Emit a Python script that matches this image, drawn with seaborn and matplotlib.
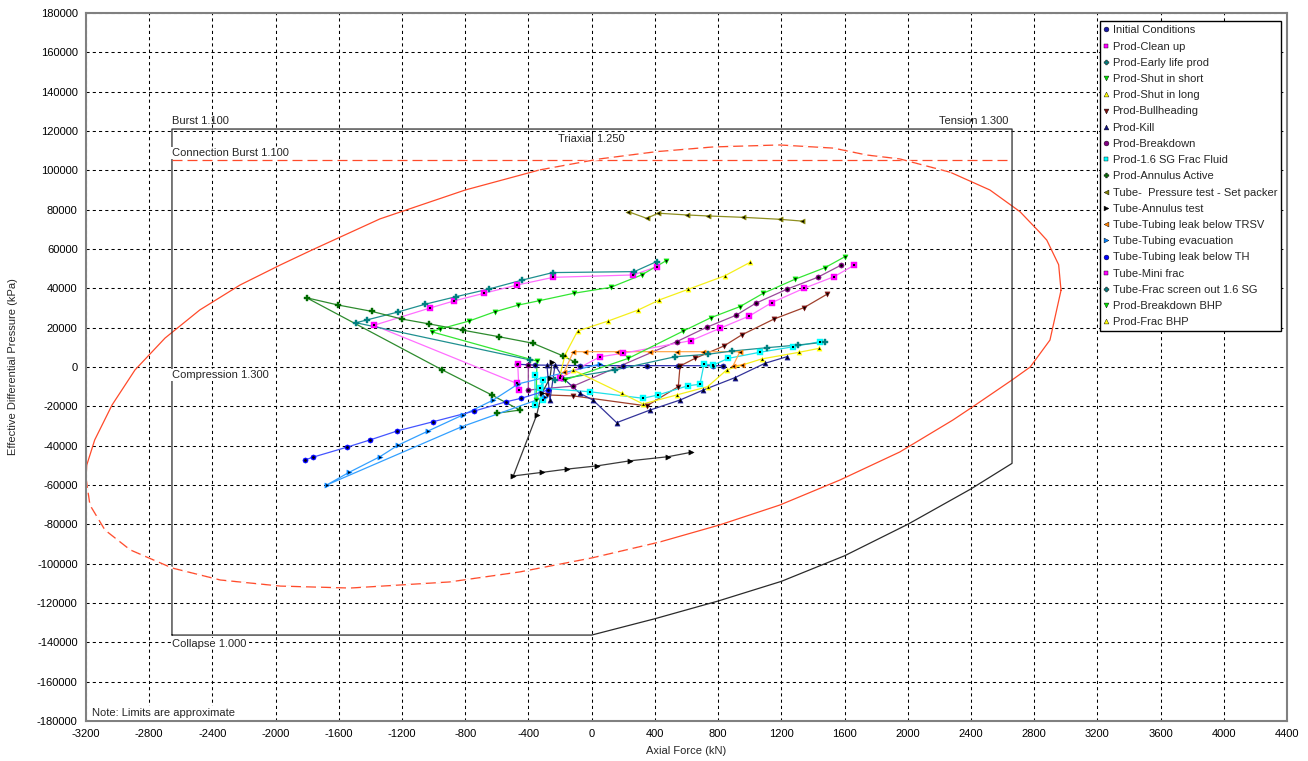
import numpy as np
import pandas as pd
import matplotlib
matplotlib.use("Agg")
import matplotlib.pyplot as plt
from matplotlib.lines import Line2D
from matplotlib.ticker import FuncFormatter
import seaborn as sns

sns.set_theme(style="white")
plt.rcParams["font.family"] = ["Liberation Sans", "DejaVu Sans"]
plt.rcParams["font.size"] = 8
plt.rcParams["axes.unicode_minus"] = False

# ---------------------------------------------------------------- load cases
initial_x = [-475, -360, -74, 200, 348, 548, 770, 833]
initial_y = [1400, 1000, 700, 700, 700, 660, 660, 660]

cleanup_x = [-468, -460, -475, -1378, -1023, -871, -681, -471, -243, 263, 411]
cleanup_y = [1300, -11700, -8300, 21200, 30000, 33600, 37500, 41700, 45600, 46800, 51000]

early_x = [-390, -1491, -1424, -1224, -1055, -861, -648, -439, -247, 270, 411]
early_y = [3600, 22500, 23900, 28000, 31900, 35700, 39700, 44200, 48000, 48500, 53600]

shut_short_x = [-352, -346, -1012, -960, -775, -612, -464, -332, -112, 120, 316, 470]
shut_short_y = [-16800, 3000, 17900, 19300, 23400, 28100, 31500, 33700, 37500, 40500, 46800, 54000]

shut_long_x = [-200, -169, -89, 105, 295, 428, 611, 843, 1002]
shut_long_y = [-4100, 6100, 18300, 23400, 29000, 34100, 39500, 46400, 53200]

bullhead_x = [-285, -116, 348, 548, 559, 654, 837, 949, 1154, 1344, 1491]
bullhead_y = [-14200, -14700, -19800, -10000, 500, 4400, 10700, 16300, 24400, 30200, 37100]

kill_x = [-283, -264, -232, -180, -74, 8, 158, 369, 559, 706, 907, 1097, 1234]
kill_y = [1000, -16800, 1000, -5700, -13400, -16800, -28300, -21900, -16800, -11700, -5400, 1900, 5200]

breakdown_x = [-401, -401, -116, 538, 728, 913, 1038, 1234, 1430, 1576]
breakdown_y = [1000, -11700, -9700, 12900, 20200, 26300, 32400, 39500, 45600, 51700]

frac_fluid_x = [-359, -359, -308, -308, -327, -11, 325, 421, 611, 685, 711, 770, 864, 1065, 1276, 1445]
frac_fluid_y = [-4100, -19300, -6600, -16800, -10700, -12600, -15900, -14200, -9500, -8800, 1500, 1000,
                4400, 7500, 10300, 12900]

ann_active_x = [-106, -180, -373, -587, -813, -1028, -1202, -1392, -1604, -1804, -945, -633, -454, -601]
ann_active_y = [2500, 5600, 12100, 15400, 18700, 21900, 24400, 28300, 31500, 35200, -1500, -14200, -21900, -23500]

set_packer_x = [231, 348, 421, 605, 738, 959, 1192, 1329]
set_packer_y = [79000, 75600, 78200, 77300, 76800, 76100, 75100, 74200]

ann_test_x = [-251, -264, -316, -348, -496, -316, -154, 32, 242, 485, 627]
ann_test_y = [2500, -5700, -13400, -24400, -55400, -53600, -51900, -50300, -47700, -45600, -43400]

leak_trsv_x = [-173, -116, -42, 158, 369, 538, 706, 938, 894, 949]
leak_trsv_y = [-2400, 7800, 7800, 7800, 7800, 7800, 7800, 7800, 500, 1000]

evac_x = [-296, -823, -1677, -1536, -1340, -1224, -1034, -816, -623, -465, 53]
evac_y = [-15300, -30400, -60000, -53600, -45600, -39700, -32500, -24400, -16800, -8600, 1500]

leak_th_x = [-1814, -1766, -1550, -1403, -1230, -1002, -743, -542, -445, -276]
leak_th_y = [-47300, -45900, -40800, -37100, -32500, -27800, -22400, -17700, -15900, -11700]

mini_frac_x = [-200, 53, 200, 628, 812, 997, 1139, 1343, 1533, 1660]
mini_frac_y = [-5600, 5200, 7000, 13400, 19700, 25900, 32700, 40000, 45900, 51700]

screen_out_x = [-232, 147, 527, 738, 886, 1107, 1307, 1476]
screen_out_y = [-6600, -1500, 5200, 6500, 8100, 9800, 11200, 12600]

bd_bhp_x = [-169, 232, 580, 755, 938, 1086, 1286, 1476, 1603]
bd_bhp_y = [-6600, 4400, 18300, 25100, 30700, 37500, 44600, 50500, 56100]

frac_bhp_x = [-118, 190, 325, 538, 734, 854, 1076, 1314, 1440]
frac_bhp_y = [-1500, -13400, -18800, -14200, -10000, -1500, 4100, 7500, 9500]

# ---------------------------------------------------------------- design limits
burst_y = 121000
conn_burst_y = 105000
collapse_y = -136300
compression_x = -2656
tension_x = 2660
collapse_curve_x = [0, 400, 800, 1200, 1600, 2000, 2400, 2660]
collapse_curve_y = [-136300, -128000, -119000, -109000, -96000, -80000, -62000, -49000]

triax_x = [2970, 2955, 2880, 2835, 2710, 2520, 2270, 1950, 1740, 1530, 1190, 770, 410, 50, -330,
           -800, -1340, -1770, -1970, -2225, -2480, -2700, -2890, -3035, -3145, -3195, -3200,
           -3175, -3080, -2920, -2655, -2350, -1970, -1530, -900, -455, 0, 430, 810, 1190, 1570,
           1950, 2285, 2410, 2660, 2775, 2900, 2970]
triax_y = [39000, 52000, 64500, 68500, 79000, 90000, 99000, 105800, 107800, 111300, 112900, 111900,
           109500, 105800, 100200, 90000, 75300, 59500, 51900, 41700, 29000, 14700, -1500, -19300,
           -37100, -49800, -56400, -70200, -82900, -93000, -102200, -108300, -111400, -112400,
           -109300, -104200, -97100, -89000, -80300, -70200, -57500, -43200, -27000, -20300, -6600,
           0, 13700, 39000]

# label, x, y, marker colour, line colour, marker
series = [
    ("Initial Conditions", initial_x, initial_y, "#1a1aa8", "#2c2cb0", "o"),
    ("Prod-Clean up", cleanup_x, cleanup_y, "#ff00ff", "#ff6eff", "s"),
    ("Prod-Early life prod", early_x, early_y, "#008080", "#1f9090", "P"),
    ("Prod-Shut in short", shut_short_x, shut_short_y, "#00e000", "#33e633", "v"),
    ("Prod-Shut in long", shut_long_x, shut_long_y, "#ffff00", "#f5ef1a", "^"),
    ("Prod-Bullheading", bullhead_x, bullhead_y, "#7a1010", "#a0402c", "v"),
    ("Prod-Kill", kill_x, kill_y, "#101080", "#33339a", "^"),
    ("Prod-Breakdown", breakdown_x, breakdown_y, "#800080", "#9a4a9a", "o"),
    ("Prod-1.6 SG Frac Fluid", frac_fluid_x, frac_fluid_y, "#00ffff", "#1fe0e8", "s"),
    ("Prod-Annulus Active", ann_active_x, ann_active_y, "#006a00", "#2e8b2e", "P"),
    ("Tube-  Pressure test - Set packer", set_packer_x, set_packer_y, "#808000", "#8f8f20", "<"),
    ("Tube-Annulus test", ann_test_x, ann_test_y, "#000000", "#3a3a3a", ">"),
    ("Tube-Tubing leak below TRSV", leak_trsv_x, leak_trsv_y, "#ff8000", "#ffa850", "<"),
    ("Tube-Tubing evacuation", evac_x, evac_y, "#0080ff", "#33a0ff", ">"),
    ("Tube-Tubing leak below TH", leak_th_x, leak_th_y, "#0000ff", "#4455ff", "o"),
    ("Tube-Mini frac", mini_frac_x, mini_frac_y, "#ff00ff", "#ff6eff", "s"),
    ("Tube-Frac screen out 1.6 SG", screen_out_x, screen_out_y, "#008080", "#1f9090", "P"),
    ("Prod-Breakdown BHP", bd_bhp_x, bd_bhp_y, "#00e000", "#33e633", "v"),
    ("Prod-Frac BHP", frac_bhp_x, frac_bhp_y, "#ffff00", "#f5ef1a", "^"),
]

fig = plt.figure(figsize=(13.08, 7.61), dpi=100)
ax = fig.add_axes([86 / 1308, 1 - 721 / 761, 1201 / 1308, 708 / 761])
ax.set_facecolor("white")

# triaxial ellipse: solid and dashed arcs
dashed_ranges = [(6, 14), (26, 37)]
ax.plot(triax_x, triax_y, color="#ff4a2a", lw=0.9, zorder=2)
for a, b in dashed_ranges:
    ax.plot(triax_x[a:b + 1], triax_y[a:b + 1], color="white", lw=1.6, zorder=2.1)
    ax.plot(triax_x[a:b + 1], triax_y[a:b + 1], color="#ff4a2a", lw=0.9,
            dashes=(8, 4), zorder=2.2)

# burst / tension / collapse / compression envelope
env_x = [compression_x, compression_x, tension_x] + collapse_curve_x[::-1] + [compression_x]
env_y = [collapse_y, burst_y, burst_y] + collapse_curve_y[::-1] + [collapse_y]
ax.plot(env_x, env_y, color="#2a2a2a", lw=0.9, zorder=2)
ax.plot([compression_x, tension_x], [conn_burst_y, conn_burst_y], color="#ff4a2a",
        lw=0.9, dashes=(8, 4), zorder=2)

# load case traces
for label, xs, ys, mc, lc, mk in series:
    df = pd.DataFrame({"x": xs, "y": ys})
    sns.lineplot(data=df, x="x", y="y", sort=False, estimator=None, color=lc,
                 lw=0.9, ax=ax, legend=False, zorder=3)
    sns.scatterplot(data=df, x="x", y="y", marker=mk, color=mc, s=14,
                    edgecolor=mc, linewidth=0.3, ax=ax, legend=False, zorder=4)
    sns.scatterplot(data=df, x="x", y="y", marker=mk, color="black", s=4,
                    linewidth=0, ax=ax, legend=False, zorder=5)

# limit labels
box = dict(facecolor="white", edgecolor="none", pad=0.6)
ax.text(compression_x, burst_y + 1500, "Burst 1.100", ha="left", va="bottom", fontsize=8, zorder=6)
ax.text(compression_x, conn_burst_y + 1200, "Connection Burst 1.100", ha="left", va="bottom",
        fontsize=8, bbox=box, zorder=6)
ax.text(tension_x - 20, burst_y + 1500, "Tension 1.300", ha="right", va="bottom", fontsize=8, zorder=6)
ax.text(0, 116000, "Triaxial 1.250", ha="center", va="center", fontsize=8, zorder=6)
ax.text(compression_x, -4000, "Compression 1.300", ha="left", va="center", fontsize=8,
        bbox=box, zorder=6)
ax.text(compression_x, collapse_y - 1800, "Collapse 1.000", ha="left", va="top", fontsize=8,
        bbox=box, zorder=6)
ax.text(0.005, 0.004, "Note: Limits are approximate", transform=ax.transAxes, ha="left",
        va="bottom", fontsize=8, bbox=dict(facecolor="white", edgecolor="none", pad=1.5), zorder=6)

# axes, ticks and grid
ax.set_xlim(-3200, 4400)
ax.set_ylim(-180000, 180000)
ax.set_xticks(np.arange(-3200, 4401, 400))
ax.set_yticks(np.arange(-180000, 180001, 20000))
ax.xaxis.set_major_formatter(FuncFormatter(lambda v, p: f"{int(round(v))}"))
ax.yaxis.set_major_formatter(FuncFormatter(lambda v, p: f"{int(round(v))}"))
ax.tick_params(axis="both", direction="out", length=4, width=1, color="#808080",
               labelsize=8, pad=2, labelcolor="black")
ax.grid(True, color="black", lw=0.75, linestyle=(0, (3, 3)))
ax.set_axisbelow(True)
for side in ["left", "bottom", "top", "right"]:
    ax.spines[side].set_color("#808080")
    ax.spines[side].set_linewidth(1.5)

ax.set_xlabel("Axial Force (kN)", fontsize=8)
ax.set_ylabel("Effective Differential Pressure (kPa)", fontsize=8)
ax.xaxis.set_label_coords(0.5, -0.036)
ax.yaxis.set_label_coords(-0.057, 0.5)

handles = [Line2D([0], [0], linestyle="none", marker=mk, color=mc, markersize=3.5,
                  markeredgecolor="black", markeredgewidth=0.3)
           for label, xs, ys, mc, lc, mk in series]
labels = [s[0] for s in series]
leg = ax.legend(handles, labels, loc="upper right", bbox_to_anchor=(0.995, 0.988),
                borderaxespad=0, fontsize=8, frameon=True, fancybox=False,
                edgecolor="black", framealpha=1, borderpad=0.35, handlelength=0.4,
                handletextpad=0.4, labelspacing=0.56)
leg.get_frame().set_linewidth(1.0)
leg.set_zorder(10)

fig.savefig("out.png", dpi=100)
